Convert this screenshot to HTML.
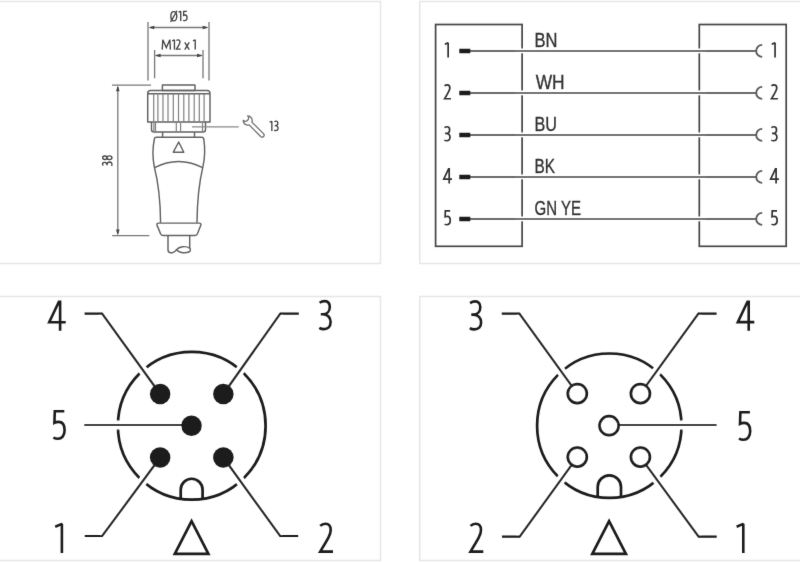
<!DOCTYPE html>
<html><head><meta charset="utf-8">
<style>
html,body{margin:0;padding:0;background:#fff;width:800px;height:562px;overflow:hidden}
#wrap{width:800px;height:562px;will-change:transform}
svg{display:block}
text{font-family:"Liberation Sans",sans-serif}
</style></head><body><div id="wrap">
<svg width="800" height="562" viewBox="0 0 800 562">
<defs><filter id="soft" x="-1%" y="-1%" width="102%" height="102%"><feConvolveMatrix order="3" kernelMatrix="0.00524 0.06192 0.00524 0.06192 0.73137 0.06192 0.00524 0.06192 0.00524" edgeMode="duplicate"/></filter></defs>
<g filter="url(#soft)">
<!-- panel borders -->
<g fill="none" stroke="#e6e6e6" stroke-width="1.6">
<rect x="-10" y="1.5" width="390.5" height="262"/>
<rect x="419.7" y="1.5" width="400" height="262"/>
<rect x="-10" y="296.5" width="390.5" height="264"/>
<rect x="419.7" y="296.5" width="400" height="264"/>
</g>

<!-- ============ TOP LEFT: connector drawing ============ -->
<g id="conn">
<!-- dimension lines -->
<g stroke="#787878" stroke-width="1.3" fill="none">
<path d="M148 22V80.4M209 22V80.4M154.6 50V78.3M203 50V78.3"/>
<path d="M150 27.5H207M156 55.5H201.5"/>
<path d="M112 85.2H151M112.2 235.6H149.3M117.8 87V234"/>
</g>
<g fill="#444" stroke="none">
<path d="M148.5 27.5l5.8 -1.8v3.6z M208.5 27.5l-5.8 -1.8v3.6z"/>
<path d="M154.8 55.5l5.8 -1.8v3.6z M202.8 55.5l-5.8 -1.8v3.6z"/>
<path d="M117.8 85.5l-1.8 5.8h3.6z M117.8 235.3l-1.8 -5.8h3.6z"/>
</g>
<!-- connector body -->
<g stroke="#626262" stroke-width="1.45" fill="none" stroke-linejoin="round">
<rect x="162.4" y="85" width="32.6" height="5.5"/>
<path d="M147.7 121.9V93.4q0-3 3-3H207q3 0 3 3V121.9z"/>
<path d="M148 93.8H209.7"/>
<path d="M151.5 121.9V129.5q0 2.5 2.5 2.5H203q2.5 0 2.5-2.5V121.9"/>
<path d="M162.6 132V137M194.5 132V137"/>
<path d="M156.5 137.3H201.6q2 0 2.2 2Q206 153 202.8 167.4Q197.3 190 197 222.7M156.5 137.3q-2 0-2.2 2Q151.5 153 154.4 167.4Q160.3 190 160.6 222.7"/>
<path d="M154.6 167.7Q178.5 155.5 202.6 167.7"/>
<path d="M178.7 142L173.3 152.2H183.8Z"/>
<path d="M158.5 223.1H199.3q2 0 1.6 2L197.5 233.6q-.5 1.9-2.5 1.9H163q-2 0-2.5-1.9L157 225.1q-.5-2 1.5-2z"/>
<path d="M168 235.7V249.7Q168 252.7 171 252.7H172.5Q174.5 252.7 176.5 249.7C179 246.3 186 245.6 189.7 248.2V235.7"/>
<path d="M176.5 249.7C179 253.3 186 253.5 189.7 251.5C190.6 250.6 190.6 249 189.7 248.2"/>
</g>
<g stroke="#808080" stroke-width="1.2" fill="none">
<path d="M153.7 93.8V121.9M157.9 93.8V121.9M163 93.8V121.9M168 93.8V121.9M173.3 93.8V121.9M178.5 93.8V121.9M183.8 93.8V121.9M188.9 93.8V121.9M194.2 93.8V121.9M199.3 93.8V121.9M204.1 93.8V121.9"/>
<path d="M153.9 122V132M155.5 122V132M176.3 122V132M180.6 122V132M202.5 122V132"/>
</g>
<g stroke="#8a8a8a" stroke-width="1.4"><path d="M192 126.9H238.8"/></g>
<!-- wrench -->
<g stroke="#707070" stroke-width="1.3" fill="none" stroke-linejoin="round">
<path d="M247.6 115.9A4.6 4.6 0 0 1 251.9 122.1L263.7 133.9A2 2 0 0 1 260.9 136.7L249.1 124.9A4.6 4.6 0 0 1 243.2 120.3A2.9 2.9 0 0 0 247.6 115.9Z"/>
</g>
</g>

<!-- ============ TOP RIGHT: wiring ============ -->
<g id="wiring">
<g fill="none" stroke="#474747" stroke-width="1.7">
<rect x="435.6" y="24.5" width="86.5" height="221.8"/>
<rect x="699.3" y="24.5" width="86.9" height="221.8"/>
</g>
<g stroke="#fff" stroke-width="4.6">
<path d="M515 50.9H706M515 92.9H706M515 134.9H706M515 176.9H706M515 218.9H706"/>
</g>
<g stroke="#6c6c6c" stroke-width="2" fill="none">
<path d="M470 50.9H756M470 92.9H756M470 134.9H756M470 176.9H756M470 218.9H756"/>
</g>
<g stroke="#5a5a5a" stroke-width="1.9" fill="none">
<path d="M762.2 44.9a6 6 0 0 0 0 12M762.2 86.9a6 6 0 0 0 0 12M762.2 128.9a6 6 0 0 0 0 12M762.2 170.9a6 6 0 0 0 0 12M762.2 212.9a6 6 0 0 0 0 12"/>
</g>
<g stroke="#1c1c1c" stroke-width="4.5">
<path d="M459.3 50.9H470.3M459.3 92.9H470.3M459.3 134.9H470.3M459.3 176.9H470.3M459.3 218.9H470.3"/>
</g>
</g>

<!-- ============ BOTTOM LEFT: male pins ============ -->
<g id="male">
<circle cx="191.75" cy="425.75" r="73.85" fill="none" stroke="#1c1c1c" stroke-width="2.7"/>
<path d="M180.7 499V489.7a10.95 10.95 0 0 1 21.9 0V499" fill="none" stroke="#1c1c1c" stroke-width="2.7"/>
<g stroke="#fff" stroke-width="9" fill="none">
<path d="M102.1 313.7L160.15 394M280.3 313.6L223.35 394M84.4 425H181M102.2 536L160.15 457.5M280.1 536L223.35 457.5"/>
</g>
<g stroke="#1c1c1c" stroke-width="2.2" fill="none">
<path d="M84.6 313.7H102.1L160.15 394M298.8 313.6H280.3L223.35 394M84.4 425H191.5M84.8 536H102.2L160.15 457.5M298.2 536H280.1L223.35 457.5"/>
</g>
<g fill="#1c1c1c">
<circle cx="160.15" cy="394" r="10.25"/>
<circle cx="223.35" cy="394" r="10.25"/>
<circle cx="191.5" cy="425.85" r="10.25"/>
<circle cx="160.15" cy="457.5" r="10.25"/>
<circle cx="223.35" cy="457.5" r="10.25"/>
</g>
<path d="M191.6 521.2L174.8 553.8H208.4Z" fill="none" stroke="#1c1c1c" stroke-width="2.7" stroke-linejoin="miter"/>
</g>

<!-- ============ BOTTOM RIGHT: female ============ -->
<g id="female">
<circle cx="609.3" cy="425.7" r="72.2" fill="none" stroke="#1c1c1c" stroke-width="2.7"/>
<path d="M597.7 497V487a11.65 11.65 0 0 1 23.3 0V497" fill="none" stroke="#1c1c1c" stroke-width="2.7"/>
<g stroke="#fff" stroke-width="9" fill="none">
<path d="M519.4 313.6L577.3 393.6M698.4 313.6L640.4 393.6M609 425H716.5M519.7 536.7L577.3 457.1M698.6 536.7L640.4 457.1"/>
</g>
<g stroke="#1c1c1c" stroke-width="2.2" fill="none">
<path d="M501.8 313.6H519.4L577.3 393.6M716.6 313.6H698.4L640.4 393.6M609 425H716.5M502 536.7H519.7L577.3 457.1M716.7 536.7H698.6L640.4 457.1"/>
</g>
<g fill="#fff" stroke="#1c1c1c" stroke-width="2.7">
<circle cx="577.3" cy="393.6" r="9.5"/>
<circle cx="640.4" cy="393.6" r="9.5"/>
<circle cx="609.1" cy="425.65" r="9.5"/>
<circle cx="577.3" cy="457.1" r="9.5"/>
<circle cx="640.4" cy="457.1" r="9.5"/>
</g>
<path d="M609.1 521.2L592.3 553.8H625.9Z" fill="none" stroke="#1c1c1c" stroke-width="2.7" stroke-linejoin="miter"/>
</g>

<g id="texts">
<text x="534.59" y="47.00" font-size="20.91" textLength="22.96" lengthAdjust="spacingAndGlyphs" fill="#333" stroke="#333" stroke-width="0.35">BN</text>
<text x="535.65" y="88.50" font-size="20.24" textLength="28.92" lengthAdjust="spacingAndGlyphs" fill="#333" stroke="#333" stroke-width="0.35">WH</text>
<text x="534.59" y="131.00" font-size="20.91" textLength="22.45" lengthAdjust="spacingAndGlyphs" fill="#333" stroke="#333" stroke-width="0.35">BU</text>
<text x="534.54" y="173.40" font-size="20.70" textLength="20.48" lengthAdjust="spacingAndGlyphs" fill="#333" stroke="#333" stroke-width="0.35">BK</text>
<text x="534.59" y="215.00" font-size="20.91" textLength="46.45" lengthAdjust="spacingAndGlyphs" fill="#333" stroke="#333" stroke-width="0.35">GN YE</text>
<path transform="translate(47.90 330.80) scale(1.0000)" d="M17.8 -8.6 H1.3 L11.0 -29.0 H12.2 V0" fill="none" stroke="#1e1e1e" stroke-width="2.600" stroke-linejoin="miter"/>
<path transform="translate(318.20 330.40) scale(1.0000)" d="M1.4 -27.6 C3.0 -28.7 4.6 -29.3 6.5 -29.3 C9.9 -29.3 11.6 -27.0 11.6 -23.5 C11.6 -19.0 8.5 -16.1 4.6 -16.1 H2.6 M4.6 -16.1 C9.6 -16.1 12.4 -12.8 12.4 -8.3 C12.4 -3.6 9.6 -1.3 5.8 -1.3 C3.8 -1.3 2.3 -1.8 1.1 -2.6" fill="none" stroke="#1e1e1e" stroke-width="2.600" stroke-linejoin="miter"/>
<path transform="translate(52.30 440.10) scale(1.0000)" d="M12.0 -28.9 H2.5 L2.1 -17.3 C3.6 -18.0 5.0 -18.2 6.3 -18.2 C10.2 -18.2 12.3 -15.0 12.3 -9.8 C12.3 -4.3 9.4 -1.3 5.6 -1.3 C3.8 -1.3 2.3 -1.8 1.1 -2.6" fill="none" stroke="#1e1e1e" stroke-width="2.600" stroke-linejoin="miter"/>
<path transform="translate(54.60 552.90) scale(1.0000)" d="M0.6 -26.2 L7.3 -29.0 V0" fill="none" stroke="#1e1e1e" stroke-width="2.600" stroke-linejoin="bevel"/>
<path transform="translate(318.60 552.90) scale(1.0000)" d="M1.6 -27.0 C3.2 -28.6 5.0 -29.2 6.8 -29.2 C10.2 -29.2 12.1 -26.8 12.1 -22.8 C12.1 -18.6 9.8 -14.6 1.6 -1.3 H14.4" fill="none" stroke="#1e1e1e" stroke-width="2.600" stroke-linejoin="miter"/>
<path transform="translate(468.70 330.70) scale(1.0000)" d="M1.4 -27.6 C3.0 -28.7 4.6 -29.3 6.5 -29.3 C9.9 -29.3 11.6 -27.0 11.6 -23.5 C11.6 -19.0 8.5 -16.1 4.6 -16.1 H2.6 M4.6 -16.1 C9.6 -16.1 12.4 -12.8 12.4 -8.3 C12.4 -3.6 9.6 -1.3 5.8 -1.3 C3.8 -1.3 2.3 -1.8 1.1 -2.6" fill="none" stroke="#1e1e1e" stroke-width="2.600" stroke-linejoin="miter"/>
<path transform="translate(736.50 330.70) scale(1.0000)" d="M17.8 -8.6 H1.3 L11.0 -29.0 H12.2 V0" fill="none" stroke="#1e1e1e" stroke-width="2.600" stroke-linejoin="miter"/>
<path transform="translate(737.90 441.10) scale(1.0000)" d="M12.0 -28.9 H2.5 L2.1 -17.3 C3.6 -18.0 5.0 -18.2 6.3 -18.2 C10.2 -18.2 12.3 -15.0 12.3 -9.8 C12.3 -4.3 9.4 -1.3 5.6 -1.3 C3.8 -1.3 2.3 -1.8 1.1 -2.6" fill="none" stroke="#1e1e1e" stroke-width="2.600" stroke-linejoin="miter"/>
<path transform="translate(468.90 552.90) scale(1.0000)" d="M1.6 -27.0 C3.2 -28.6 5.0 -29.2 6.8 -29.2 C10.2 -29.2 12.1 -26.8 12.1 -22.8 C12.1 -18.6 9.8 -14.6 1.6 -1.3 H14.4" fill="none" stroke="#1e1e1e" stroke-width="2.600" stroke-linejoin="miter"/>
<path transform="translate(736.00 552.90) scale(1.0000)" d="M0.6 -26.2 L7.3 -29.0 V0" fill="none" stroke="#1e1e1e" stroke-width="2.600" stroke-linejoin="bevel"/>
<path transform="translate(444.50 57.40) scale(0.5000)" d="M0.6 -26.2 L7.3 -29.0 V0" fill="none" stroke="#333" stroke-width="3.400" stroke-linejoin="bevel"/>
<path transform="translate(771.40 57.40) scale(0.5000)" d="M0.6 -26.2 L7.3 -29.0 V0" fill="none" stroke="#333" stroke-width="3.400" stroke-linejoin="bevel"/>
<path transform="translate(443.80 99.40) scale(0.5000)" d="M1.6 -27.0 C3.2 -28.6 5.0 -29.2 6.8 -29.2 C10.2 -29.2 12.1 -26.8 12.1 -22.8 C12.1 -18.6 9.8 -14.6 1.6 -1.3 H14.4" fill="none" stroke="#333" stroke-width="3.400" stroke-linejoin="miter"/>
<path transform="translate(770.70 99.40) scale(0.5000)" d="M1.6 -27.0 C3.2 -28.6 5.0 -29.2 6.8 -29.2 C10.2 -29.2 12.1 -26.8 12.1 -22.8 C12.1 -18.6 9.8 -14.6 1.6 -1.3 H14.4" fill="none" stroke="#333" stroke-width="3.400" stroke-linejoin="miter"/>
<path transform="translate(443.80 141.40) scale(0.5000)" d="M1.4 -27.6 C3.0 -28.7 4.6 -29.3 6.5 -29.3 C9.9 -29.3 11.6 -27.0 11.6 -23.5 C11.6 -19.0 8.5 -16.1 4.6 -16.1 H2.6 M4.6 -16.1 C9.6 -16.1 12.4 -12.8 12.4 -8.3 C12.4 -3.6 9.6 -1.3 5.8 -1.3 C3.8 -1.3 2.3 -1.8 1.1 -2.6" fill="none" stroke="#333" stroke-width="3.400" stroke-linejoin="miter"/>
<path transform="translate(770.70 141.40) scale(0.5000)" d="M1.4 -27.6 C3.0 -28.7 4.6 -29.3 6.5 -29.3 C9.9 -29.3 11.6 -27.0 11.6 -23.5 C11.6 -19.0 8.5 -16.1 4.6 -16.1 H2.6 M4.6 -16.1 C9.6 -16.1 12.4 -12.8 12.4 -8.3 C12.4 -3.6 9.6 -1.3 5.8 -1.3 C3.8 -1.3 2.3 -1.8 1.1 -2.6" fill="none" stroke="#333" stroke-width="3.400" stroke-linejoin="miter"/>
<path transform="translate(443.10 183.40) scale(0.5000)" d="M17.8 -8.6 H1.3 L11.0 -29.0 H12.2 V0" fill="none" stroke="#333" stroke-width="3.400" stroke-linejoin="miter"/>
<path transform="translate(770.00 183.40) scale(0.5000)" d="M17.8 -8.6 H1.3 L11.0 -29.0 H12.2 V0" fill="none" stroke="#333" stroke-width="3.400" stroke-linejoin="miter"/>
<path transform="translate(444.10 225.40) scale(0.5000)" d="M12.0 -28.9 H2.5 L2.1 -17.3 C3.6 -18.0 5.0 -18.2 6.3 -18.2 C10.2 -18.2 12.3 -15.0 12.3 -9.8 C12.3 -4.3 9.4 -1.3 5.6 -1.3 C3.8 -1.3 2.3 -1.8 1.1 -2.6" fill="none" stroke="#333" stroke-width="3.400" stroke-linejoin="miter"/>
<path transform="translate(771.00 225.40) scale(0.5000)" d="M12.0 -28.9 H2.5 L2.1 -17.3 C3.6 -18.0 5.0 -18.2 6.3 -18.2 C10.2 -18.2 12.3 -15.0 12.3 -9.8 C12.3 -4.3 9.4 -1.3 5.6 -1.3 C3.8 -1.3 2.3 -1.8 1.1 -2.6" fill="none" stroke="#333" stroke-width="3.400" stroke-linejoin="miter"/>
<path transform="translate(170.30 21.30) scale(0.3350)" d="M10.5 -28.8 C15.5 -28.8 19.3 -23.5 19.3 -15 C19.3 -6.5 15.5 -1.3 10.5 -1.3 C5.5 -1.3 1.7 -6.5 1.7 -15 C1.7 -23.5 5.5 -28.8 10.5 -28.8Z M1.0 1.5 L20.0 -31.5" fill="none" stroke="#444" stroke-width="4.030" stroke-linejoin="miter"/>
<path transform="translate(178.30 21.00) scale(0.3350)" d="M0.6 -26.2 L7.3 -29.0 V0" fill="none" stroke="#444" stroke-width="4.030" stroke-linejoin="bevel"/>
<path transform="translate(182.90 21.10) scale(0.3350)" d="M12.0 -28.9 H2.5 L2.1 -17.3 C3.6 -18.0 5.0 -18.2 6.3 -18.2 C10.2 -18.2 12.3 -15.0 12.3 -9.8 C12.3 -4.3 9.4 -1.3 5.6 -1.3 C3.8 -1.3 2.3 -1.8 1.1 -2.6" fill="none" stroke="#444" stroke-width="4.030" stroke-linejoin="miter"/>
<path transform="translate(161.80 49.60) scale(0.3350)" d="M1.3 0 L3.0 -29.3 L13.5 -6.0 L24.0 -29.3 L25.7 0" fill="none" stroke="#444" stroke-width="4.030" stroke-linejoin="miter"/>
<path transform="translate(172.00 49.60) scale(0.3350)" d="M0.6 -26.2 L7.3 -29.0 V0" fill="none" stroke="#444" stroke-width="4.030" stroke-linejoin="bevel"/>
<path transform="translate(175.90 49.60) scale(0.3350)" d="M1.6 -27.0 C3.2 -28.6 5.0 -29.2 6.8 -29.2 C10.2 -29.2 12.1 -26.8 12.1 -22.8 C12.1 -18.6 9.8 -14.6 1.6 -1.3 H14.4" fill="none" stroke="#444" stroke-width="4.030" stroke-linejoin="miter"/>
<path transform="translate(184.30 49.60) scale(0.3350)" d="M1.4 -21.5 L14.6 0 M14.6 -21.5 L1.4 0" fill="none" stroke="#444" stroke-width="4.030" stroke-linejoin="miter"/>
<path transform="translate(192.80 49.60) scale(0.3350)" d="M0.6 -26.2 L7.3 -29.0 V0" fill="none" stroke="#444" stroke-width="4.030" stroke-linejoin="bevel"/>
<path transform="translate(269.40 131.00) scale(0.3350)" d="M0.6 -26.2 L7.3 -29.0 V0" fill="none" stroke="#444" stroke-width="4.030" stroke-linejoin="bevel"/>
<path transform="translate(273.90 131.00) scale(0.3350)" d="M1.4 -27.6 C3.0 -28.7 4.6 -29.3 6.5 -29.3 C9.9 -29.3 11.6 -27.0 11.6 -23.5 C11.6 -19.0 8.5 -16.1 4.6 -16.1 H2.6 M4.6 -16.1 C9.6 -16.1 12.4 -12.8 12.4 -8.3 C12.4 -3.6 9.6 -1.3 5.8 -1.3 C3.8 -1.3 2.3 -1.8 1.1 -2.6" fill="none" stroke="#444" stroke-width="4.030" stroke-linejoin="miter"/>
<g transform="translate(112.4 166.2) rotate(-90)"><path transform="translate(0.00 0.00) scale(0.3350)" d="M1.4 -27.6 C3.0 -28.7 4.6 -29.3 6.5 -29.3 C9.9 -29.3 11.6 -27.0 11.6 -23.5 C11.6 -19.0 8.5 -16.1 4.6 -16.1 H2.6 M4.6 -16.1 C9.6 -16.1 12.4 -12.8 12.4 -8.3 C12.4 -3.6 9.6 -1.3 5.8 -1.3 C3.8 -1.3 2.3 -1.8 1.1 -2.6" fill="none" stroke="#444" stroke-width="4.030" stroke-linejoin="miter"/><path transform="translate(6.20 0.00) scale(0.3350)" d="M6.75 -16.2 C3.6 -16.2 1.6 -18.8 1.6 -22.6 C1.6 -26.8 3.8 -29.0 6.75 -29.0 C9.7 -29.0 11.9 -26.8 11.9 -22.6 C11.9 -18.8 9.9 -16.2 6.75 -16.2 C3.2 -16.2 1.3 -13.0 1.3 -8.6 C1.3 -3.8 3.6 -1.3 6.75 -1.3 C9.9 -1.3 12.2 -3.8 12.2 -8.6 C12.2 -13.0 10.3 -16.2 6.75 -16.2Z" fill="none" stroke="#444" stroke-width="4.030" stroke-linejoin="miter"/></g>
</g>
</g>
</svg></div>
</body></html>
